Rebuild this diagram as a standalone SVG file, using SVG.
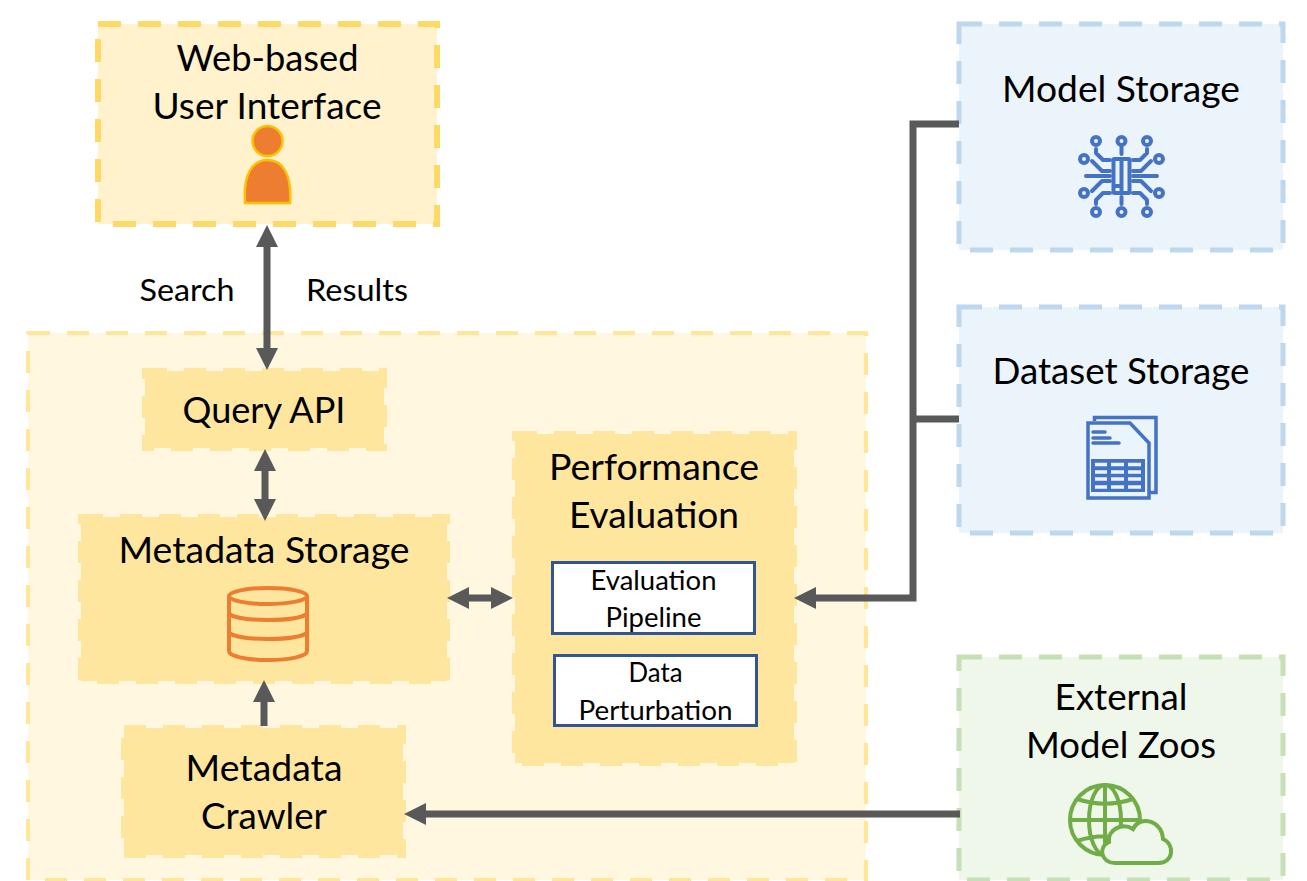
<svg xmlns="http://www.w3.org/2000/svg" width="1307" height="881" viewBox="0 0 1307 881">
<style>
text{font-family:"Lato","Open Sans","Liberation Sans",sans-serif;fill:#000;text-anchor:middle}
.t{font-size:36px}.s{font-size:30px}.m{font-size:27px}
.y{fill:#fff2cc;stroke:#ffd966;stroke-width:6;stroke-dasharray:23 17}
.o{fill:#fff7e0;stroke:#ffe699;stroke-width:4;stroke-dasharray:22 17}
.i{fill:#ffe69f;stroke:#ffe69f;stroke-width:6;stroke-dasharray:22 17}
.b{fill:#ebf3fb;stroke:#bdd7ee;stroke-width:5;stroke-dasharray:23 17}
.g{fill:#eff6ea;stroke:#c5e0b4;stroke-width:5;stroke-dasharray:23 17}
.w{fill:#fff;stroke:#2f5597;stroke-width:3}
.c{fill:none;stroke:#595959;stroke-width:7}
.h{fill:#595959}
.bi{fill:none;stroke:#4472c4;stroke-width:4;stroke-linecap:round;stroke-linejoin:round}
.gi{fill:none;stroke:#70ad47;stroke-width:4}
.oi{fill:none;stroke:#ed7d31;stroke-width:4}
</style>
<g id="backend"><rect class="o" x="28" y="333" width="838" height="547"/></g>
<g id="web-ui">
<rect class="y" x="98" y="24" width="339" height="200"/>
<text class="t" x="267.500" y="71" textLength="182" lengthAdjust="spacingAndGlyphs">Web-based</text>
<text class="t" x="267" y="119" textLength="229" lengthAdjust="spacingAndGlyphs">User Interface</text>
<circle cx="267.500" cy="141" r="15" fill="#ed7d31" stroke="#ffc000" stroke-width="2.500"/>
<path d="M245 203C243 175 252 160 267.500 160C283 160 292 175 290 203Z" fill="#ed7d31" stroke="#ffc000" stroke-width="2.500"/>
</g>
<g id="query-api">
<rect class="i" x="145" y="371" width="239" height="77"/>
<text class="t" x="264" y="423" textLength="163" lengthAdjust="spacingAndGlyphs">Query API</text>
</g>
<g id="metadata-storage">
<rect class="i" x="81" y="517" width="366" height="164"/>
<text class="t" x="264" y="563" textLength="291" lengthAdjust="spacingAndGlyphs">Metadata Storage</text>
<g class="oi"><ellipse cx="268" cy="596" rx="39" ry="8"/>
<path d="M229 596V651C229 656 245 660 268 660C291 660 307 656 307 651V596"/>
<path d="M229 614C235 618 250 620 268 620C286 620 301 618 307 614"/>
<path d="M229 633C235 637 250 639 268 639C286 639 301 637 307 633"/></g>
</g>
<g id="metadata-crawler">
<rect class="i" x="124" y="728" width="279" height="127"/>
<text class="t" x="264" y="781" textLength="157" lengthAdjust="spacingAndGlyphs">Metadata</text>
<text class="t" x="264" y="829" textLength="126" lengthAdjust="spacingAndGlyphs">Crawler</text>
</g>
<g id="performance-evaluation">
<rect class="i" x="515" y="434" width="279" height="329"/>
<text class="t" x="654" y="480" textLength="210" lengthAdjust="spacingAndGlyphs">Performance</text>
<text class="t" x="654" y="528" textLength="170" lengthAdjust="spacingAndGlyphs">Evaluation</text>
</g>
<g id="evaluation-pipeline">
<rect class="w" x="552.500" y="562.500" width="202" height="71"/>
<text class="m" x="653.500" y="590" textLength="126" lengthAdjust="spacingAndGlyphs">Evaluation</text>
<text class="m" x="653.500" y="627" textLength="96" lengthAdjust="spacingAndGlyphs">Pipeline</text>
</g>
<g id="data-perturbation">
<rect class="w" x="554.500" y="655.500" width="202" height="70"/>
<text class="m" x="655.500" y="682" textLength="54" lengthAdjust="spacingAndGlyphs">Data</text>
<text class="m" x="655.500" y="720" textLength="154" lengthAdjust="spacingAndGlyphs">Perturbation</text>
</g>
<g id="model-storage">
<rect class="b" x="959" y="24" width="324" height="226"/>
<text class="t" x="1121" y="102" textLength="238" lengthAdjust="spacingAndGlyphs">Model Storage</text>
<g class="bi">
<rect x="1113.500" y="159" width="16" height="34" rx="1"/><path d="M1121.500 159V193M1114 186H1121"/>
<path d="M1086 176H1110M1133 176H1157M1121.500 154V147M1121.500 197V204M1110 171H1102L1092 161M1133 171H1141L1151 161M1110 181H1102L1092 191M1133 181H1141L1151 191M1110 160H1103L1096 153V149M1133 160H1140L1147 153V149M1110 193H1103L1096 200V204M1133 193H1140L1147 200V204"/>
<circle cx="1096" cy="141" r="4"/><circle cx="1121.500" cy="141" r="4"/><circle cx="1147" cy="141" r="4"/>
<circle cx="1084" cy="159" r="4"/><circle cx="1159" cy="159" r="4"/>
<circle cx="1084" cy="193" r="4"/><circle cx="1159" cy="193" r="4"/>
<circle cx="1096" cy="212" r="4"/><circle cx="1121.500" cy="212" r="4"/><circle cx="1147" cy="212" r="4"/>
</g>
</g>
<g id="dataset-storage">
<rect class="b" x="959" y="307" width="324" height="226"/>
<text class="t" x="1121" y="384" textLength="257" lengthAdjust="spacingAndGlyphs">Dataset Storage</text>
<path d="M1094.500 421V417.500H1156V492.500H1149" fill="none" stroke="#4472c4" stroke-width="3.500"/>
<path d="M1088 423H1130L1149 443V498H1088Z" fill="#ebf3fb" stroke="#4472c4" stroke-width="3.500"/>
<path d="M1093 432H1105M1093 438H1110M1093 443H1119" stroke="#4472c4" stroke-width="3.500" stroke-linecap="round"/>
<rect x="1091" y="459" width="54" height="33" fill="#4472c4"/>
<path d="M1095 464.500H1107M1111 464.500H1124M1128 464.500H1141M1095 472H1107M1111 472H1124M1128 472H1141M1095 479H1107M1111 479H1124M1128 479H1141M1095 487H1107M1111 487H1124M1128 487H1141" stroke="#ebf3fb" stroke-width="3.500"/>
</g>
<g id="external-model-zoos">
<rect class="g" x="959" y="657" width="324" height="223"/>
<text class="t" x="1121" y="710" textLength="133" lengthAdjust="spacingAndGlyphs">External</text>
<text class="t" x="1121" y="758" textLength="190" lengthAdjust="spacingAndGlyphs">Model Zoos</text>
<g class="gi"><circle cx="1105" cy="820" r="35"/><ellipse cx="1105" cy="820" rx="16" ry="35"/><path d="M1105 785V855M1070 820H1140M1077 799C1095 805 1115 805 1133 799M1077 841C1095 835 1115 835 1133 841"/></g>
<path d="M1115 863C1102 863 1097 848 1109 842C1107 830 1122 822 1133 829C1140 815 1162 820 1163 839C1175 844 1174 863 1158 863Z" fill="#eff6ea" stroke="#70ad47" stroke-width="4"/>
</g>
<g id="labels">
<text class="s" x="187" y="301" textLength="95" lengthAdjust="spacingAndGlyphs">Search</text>
<text class="s" x="357" y="301" textLength="102" lengthAdjust="spacingAndGlyphs">Results</text>
</g>
<g id="connectors">
<path class="c" d="M267 240V354M265 464V505M264 726V695M463 598H498"/>
<path class="c" d="M959 124H913V598H810M913 419H959M960 814H420"/>
<g class="h">
<path d="M267 225L278 247H256Z"/><path d="M267 370L256 348H278Z"/>
<path d="M265 449L276 471H254Z"/><path d="M265 521L254 499H276Z"/>
<path d="M264 680L275 702H253Z"/>
<path d="M447 598L469 587V609Z"/><path d="M513 598L491 587V609Z"/>
<path d="M794 598L816 587V609Z"/>
<path d="M404 814L426 803V825Z"/>
</g>
</g>
</svg>
